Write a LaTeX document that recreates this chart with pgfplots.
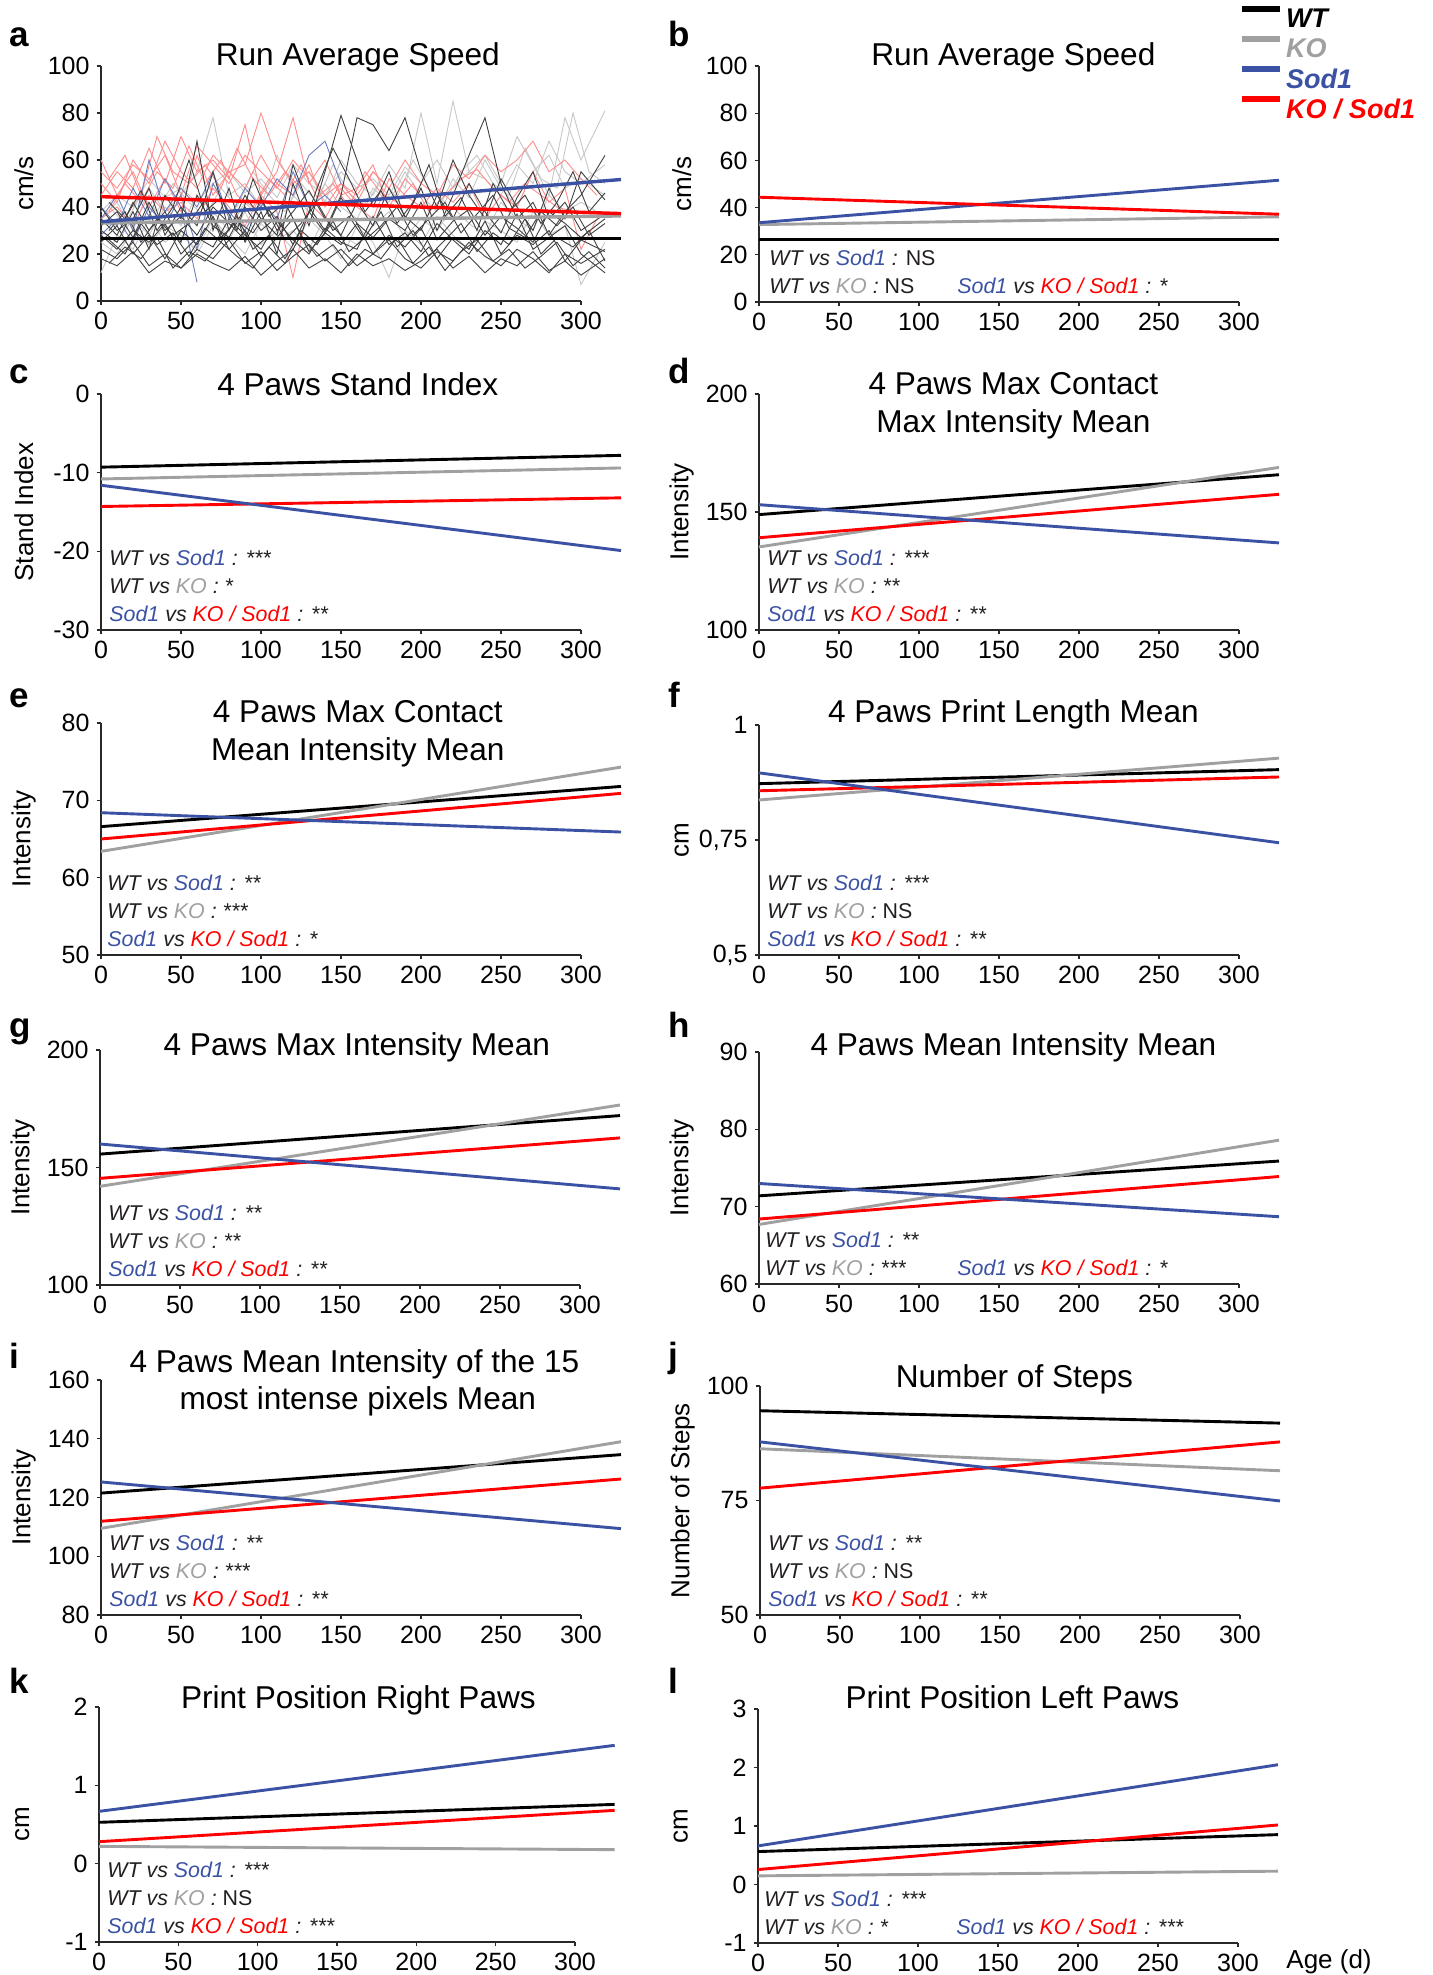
\documentclass[border=0pt]{standalone}
\usepackage{fontspec}
\setmainfont{Liberation Sans}
\usepackage{pgfplots}
\pgfplotsset{compat=1.18}

\definecolor{wt}{RGB}{0,0,0}
\definecolor{ko}{RGB}{160,160,160}
\definecolor{sod}{RGB}{59,82,164}
\definecolor{kosod}{RGB}{255,0,0}
\definecolor{axcol}{RGB}{40,40,40}
\definecolor{txt}{RGB}{35,31,32}

\newcommand\tickfont{\fontsize{12.5}{14}\selectfont}
\newcommand\titlefont{\fontsize{15.8}{18}\selectfont}
\newcommand\labfont{\fontsize{13}{15}\selectfont}
\newcommand\annfont{\fontsize{10.7}{12}\selectfont\itshape}

% significance lines
\newcommand\WTS[1]{WT vs \textcolor{sod}{Sod1} : #1}
\newcommand\WTK[1]{WT vs \textcolor{ko}{KO} : #1}
\newcommand\SKS[1]{\textcolor{sod}{Sod1} vs \textcolor{kosod}{KO / Sod1} : #1}
\newcommand\NS{{\upshape NS}}
\newcommand\annat[3]{\node[anchor=base west,inner sep=0pt,font=\annfont,text=txt] at ([xshift=#1,yshift=#2]axis description cs:0,0) {#3};}
\newcommand\ttl[3]{\node[anchor=base,inner sep=0pt,font=\titlefont] at ([yshift=#2]axis description cs:#1,1) {#3};}

\pgfplotsset{
  pan/.style={
    scale only axis, width=240pt,
    xmin=0, xmax=300, xtick={0,50,...,300},
    axis lines=left, axis line style={-, draw=axcol, line width=0.6pt},
    tick style={axcol, line width=0.6pt}, tick align=outside, major tick length=2.2pt,
    tick label style={font=\tickfont},
    /pgf/number format/assume math mode=true,
    every axis y label/.style={at={(axis description cs:-0.161,0.5)}, rotate=90, anchor=center, font=\labfont},
    clip=false, anchor=north west,
  },
  fit/.style={line width=1.45pt},
  thin/.style={line width=0.45pt},
}

\begin{document}
\begin{tikzpicture}
\useasboundingbox (0,0) rectangle (716pt,-987.5pt);

% ---------------- a
\begin{axis}[pan, at={(50.5pt,-33pt)}, height=117.5pt, ymin=0, ymax=100, ytick={0,20,...,100}, ylabel={cm/s}]
\addplot[thin, black!22] coordinates {(0,35)(10,42)(20,30)(30,48)(40,38)(50,45)(60,55)(70,78)(80,45)(90,50)(100,40)(110,62)(120,48)(130,55)(140,42)(150,60)(160,50)(170,45)(180,58)(190,48)(200,80)(210,50)(220,85)(230,55)(240,62)(250,50)(260,70)(270,58)(280,45)(290,78)(300,60)(315,81)};
\addplot[thin, black!22] coordinates {(0,30)(10,25)(20,35)(30,28)(40,40)(50,32)(60,45)(70,38)(80,30)(90,42)(100,35)(110,28)(120,45)(130,38)(140,50)(150,40)(160,35)(170,48)(180,42)(190,55)(200,45)(210,38)(220,52)(230,44)(240,60)(250,48)(260,40)(270,55)(280,62)(290,48)(300,52)(315,45)};
\addplot[thin, black!22] coordinates {(0,12)(10,28)(20,22)(30,35)(40,25)(50,30)(60,20)(70,32)(80,26)(90,38)(100,24)(110,30)(120,22)(130,35)(140,28)(150,18)(160,32)(170,25)(180,10)(190,30)(200,24)(210,36)(220,28)(230,22)(240,34)(250,30)(260,25)(270,38)(280,28)(290,32)(300,7)(315,25)};
\addplot[thin, black!22] coordinates {(0,38)(10,45)(20,40)(30,52)(40,44)(50,48)(60,42)(70,50)(80,55)(90,46)(100,52)(110,44)(120,58)(130,50)(140,45)(150,55)(160,48)(170,52)(180,45)(190,57)(200,50)(210,60)(220,48)(230,55)(240,52)(250,45)(260,58)(270,50)(280,68)(290,55)(300,50)(315,58)};
\addplot[thin, black!22] coordinates {(0,25)(10,20)(20,30)(30,24)(40,32)(50,28)(60,22)(70,35)(80,27)(90,20)(100,33)(110,26)(120,30)(130,22)(140,36)(150,28)(160,24)(170,32)(180,38)(190,27)(200,35)(210,30)(220,40)(230,33)(240,28)(250,42)(260,35)(270,30)(280,45)(290,38)(300,42)(315,36)};
\addplot[thin, black!22] coordinates {(5,40)(15,33)(25,45)(35,38)(45,50)(55,42)(65,36)(75,48)(85,40)(95,55)(105,45)(115,38)(125,50)(135,42)(145,58)(155,46)(165,40)(175,52)(185,44)(195,60)(205,48)(215,42)(225,55)(235,62)(245,50)(255,45)(265,65)(275,52)(285,48)(295,80)(305,55)(315,50)};
\addplot[thin, red!45] coordinates {(0,60)(10,45)(20,55)(30,40)(40,52)(50,38)(60,62)(70,45)(80,55)(90,48)(100,62)(110,50)(120,45)(130,58)(140,40)(150,50)(160,45)(170,55)(180,48)(190,60)(200,50)(210,45)(220,58)(230,52)(240,62)(250,55)(260,60)(270,68)(280,55)(290,60)(300,52)(310,45)};
\addplot[thin, red!45] coordinates {(0,45)(10,55)(20,48)(30,65)(40,50)(50,70)(60,55)(70,60)(80,52)(90,75)(100,45)(110,55)(120,78)(130,50)(140,60)(150,45)(160,48)(170,58)(180,40)(190,52)(200,45)};
\addplot[thin, red!45] coordinates {(0,50)(10,42)(20,60)(30,50)(40,68)(50,55)(60,48)(70,62)(80,55)(90,58)(100,80)(110,60)(120,50)(130,55)(140,45)(150,50)(160,42)(170,55)(180,48)};
\addplot[thin, red!45] coordinates {(0,35)(10,40)(20,32)(30,45)(40,38)(50,42)(60,35)(70,48)(80,40)(90,32)(100,45)(110,38)(120,10)(130,42)(140,35)(150,48)(160,40)(170,35)(180,52)(190,45)(200,40)(210,48)(220,42)(230,50)(240,35)(250,45)(260,40)(270,55)(280,42)(290,48)(300,22)(310,35)};
\addplot[thin, red!45] coordinates {(0,55)(10,48)(20,58)(30,52)(40,62)(50,45)(60,66)(70,58)(80,50)(90,62)(100,55)(110,48)(120,60)(130,52)};
\addplot[thin, red!45] coordinates {(5,52)(15,62)(25,45)(35,70)(45,55)(55,50)(65,58)(75,48)(85,65)(95,52)(105,45)(115,55)(125,48)};
\addplot[thin, red!45] coordinates {(5,38)(15,50)(25,42)(35,55)(45,48)(55,66)(65,50)(75,60)(85,45)(95,40)(105,52)(115,45)(125,58)(135,44)(145,50)(155,40)(165,55)(175,46)(185,42)(195,50)(205,38)(215,45)(225,52)(235,56)(245,48)(255,42)(265,50)(275,45)(285,40)(295,38)};
\addplot[thin, sod!75] coordinates {(0,35)(10,45)(20,30)(30,60)(40,38)(50,48)(60,40)(70,55)(80,35)(90,48)(100,40)(110,52)(120,45)(130,62)(140,68)(150,50)};
\addplot[thin, sod!75] coordinates {(0,28)(10,35)(20,25)(30,40)(40,32)(50,45)(60,22)(70,50)(80,38)(90,30)(100,42)(110,35)(120,55)(130,40)(140,45)(150,38)};
\addplot[thin, sod!75] coordinates {(0,40)(10,32)(20,48)(30,36)(40,52)(50,40)(60,8)};
\addplot[thin, black!75] coordinates {(0,22)(10,18)(20,25)(30,15)(40,20)(50,14)(60,22)(70,18)(80,26)(90,16)(100,21)(110,13)(120,19)(130,24)(140,17)(150,22)(160,15)(170,20)(180,26)(190,18)(200,14)(210,21)(220,17)(230,25)(240,19)(250,15)(260,22)(270,18)(280,12)(290,20)(300,16)(315,22)};
\addplot[thin, black!75] coordinates {(0,35)(10,28)(20,42)(30,30)(40,38)(50,25)(60,45)(70,32)(80,27)(90,40)(100,30)(110,36)(120,24)(130,38)(140,29)(150,44)(160,33)(170,27)(180,35)(190,30)(200,42)(210,26)(220,34)(230,39)(240,28)(250,36)(260,31)(270,25)(280,38)(290,33)(300,27)(315,35)};
\addplot[thin, black!75] coordinates {(0,30)(10,25)(20,38)(30,22)(40,45)(50,35)(60,68)(70,30)(80,48)(90,25)(100,38)(110,20)(120,50)(130,32)(140,55)(150,79)(160,60)(170,40)(180,55)(190,35)(200,48)(210,30)(220,45)(230,62)(240,78)(250,50)(260,35)(270,42)(280,28)(290,38)(300,45)(315,62)};
\addplot[thin, black!75] coordinates {(0,25)(10,32)(20,20)(30,28)(40,18)(50,30)(60,24)(70,36)(80,22)(90,30)(100,19)(110,27)(120,35)(130,21)(140,29)(150,24)(160,33)(170,20)(180,28)(190,23)(200,31)(210,18)(220,27)(230,22)(240,34)(250,20)(260,28)(270,24)(280,30)(290,17)(300,26)(315,21)};
\addplot[thin, black!75] coordinates {(0,40)(10,30)(20,35)(30,48)(40,28)(50,40)(60,32)(70,55)(80,30)(90,45)(100,35)(110,28)(120,58)(130,40)(140,30)(150,45)(160,78)(170,75)(180,64)(190,78)(200,55)(210,40)(220,60)(230,45)(240,35)(250,52)(260,40)(270,30)(280,48)(290,35)(300,55)(315,43)};
\addplot[thin, black!75] coordinates {(0,28)(10,22)(20,30)(30,25)(40,33)(50,20)(60,27)(70,23)(80,35)(90,28)(100,22)(110,34)(120,26)(130,20)(140,31)(150,25)(160,22)(170,36)(180,24)(190,29)(200,21)(210,33)(220,26)(230,20)(240,30)(250,24)(260,37)(270,22)(280,27)(290,32)(300,20)(315,12)};
\addplot[thin, black!75] coordinates {(0,32)(10,38)(20,27)(30,42)(40,30)(50,36)(60,28)(70,40)(80,33)(90,26)(100,44)(110,30)(120,38)(130,47)(140,35)(150,28)(160,42)(170,32)(180,48)(190,36)(200,30)(210,45)(220,35)(230,50)(240,38)(250,29)(260,44)(270,55)(280,35)(290,42)(300,30)(315,37)};
\addplot[thin, black!75] coordinates {(0,18)(10,15)(20,21)(30,12)(40,17)(50,14)(60,20)(70,16)(80,13)(90,19)(100,11)(110,17)(120,22)(130,14)(140,18)(150,12)(160,20)(170,15)(180,18)(190,13)(200,17)(210,22)(220,14)(230,19)(240,12)(250,18)(260,15)(270,21)(280,13)(290,17)(300,11)(315,18)};
\addplot[thin, black!75] coordinates {(5,26)(15,20)(25,33)(35,24)(45,29)(55,19)(65,31)(75,25)(85,36)(95,22)(105,28)(115,18)(125,30)(135,24)(145,34)(155,21)(165,27)(175,38)(185,23)(195,30)(205,19)(215,26)(225,33)(235,21)(245,29)(255,24)(265,35)(275,20)(285,27)(295,23)(305,30)(315,17)};
\addplot[thin, black!75] coordinates {(5,42)(15,35)(25,47)(35,30)(45,40)(55,60)(65,38)(75,44)(85,30)(95,52)(105,36)(115,42)(125,28)(135,48)(145,65)(155,52)(165,38)(175,47)(185,33)(195,42)(205,58)(215,36)(225,44)(235,30)(245,50)(255,38)(265,45)(275,33)(285,42)(295,55)(305,38)(315,46)};
\addplot[thin, black!75] coordinates {(5,16)(15,23)(25,18)(35,27)(45,14)(55,21)(65,17)(75,25)(85,19)(95,14)(105,23)(115,16)(125,28)(135,19)(145,24)(155,15)(165,22)(175,18)(185,27)(195,16)(205,23)(215,13)(225,21)(235,26)(245,17)(255,22)(265,14)(275,19)(285,25)(295,15)(305,21)(315,14)};
\addplot[thin, black!75] coordinates {(5,30)(15,38)(25,25)(35,35)(45,28)(55,33)(65,43)(75,27)(85,34)(95,29)(105,39)(115,26)(125,33)(135,42)(145,30)(155,36)(165,26)(175,32)(185,40)(195,28)(205,35)(215,42)(225,29)(235,37)(245,45)(255,31)(265,27)(275,38)(285,32)(295,40)(305,28)(315,33)};
\addplot[fit, wt, line width=1.7pt] coordinates {(0,26.7)(325,26.7)};
\addplot[fit, ko, line width=1.7pt] coordinates {(0,33.2)(325,36.2)};
\addplot[fit, sod, line width=1.7pt] coordinates {(0,33.7)(325,51.7)};
\addplot[fit, kosod, line width=1.7pt] coordinates {(0,44.4)(325,37.2)};
\ttl{0.535}{0.5pt}{Run Average Speed}
\end{axis}

% ---------------- b
\begin{axis}[pan, at={(379.5pt,-33pt)}, height=118pt, ymin=0, ymax=100, ytick={0,20,...,100}, ylabel={cm/s},
  legend style={draw=none, fill=none, at={(axis description cs:1.0,1.255)}, anchor=north west,
    inner sep=0pt, outer sep=0pt, row sep=4.2pt, font=\fontsize{13.5}{15}\selectfont\bfseries\itshape,
    nodes={inner sep=0pt, text height=9.6pt, text depth=0pt},
    /tikz/every odd column/.append style={column sep=1.5pt}},
  legend cell align=left,
  legend image code/.code={\draw[#1, line width=3pt] (0pt,4.6pt) -- (19pt,4.6pt);}]
\addplot[fit, wt] coordinates {(0,26.6)(325,26.6)};
\addlegendentry{WT}
\addplot[fit, ko] coordinates {(0,32.8)(325,36.1)};
\addlegendentry{\textcolor{ko}{KO}}
\addplot[fit, sod] coordinates {(0,33.6)(325,51.6)};
\addlegendentry{\textcolor{sod}{Sod1}}
\addplot[fit, kosod] coordinates {(0,44.4)(325,37.2)};
\addlegendentry{\textcolor{kosod}{KO / Sod1}}
\ttl{0.53}{0.5pt}{Run Average Speed}
\annat{5pt}{18.5pt}{\WTS{\NS}}
\annat{5pt}{4.5pt}{\WTK{\NS}}
\annat{99pt}{4.5pt}{\SKS{*}}
\end{axis}

% ---------------- c
\begin{axis}[pan, at={(50.5pt,-197pt)}, height=118pt, ymin=-30, ymax=0, ytick={-30,-20,-10,0}, ylabel={Stand Index}]
\addplot[fit, wt] coordinates {(0,-9.3)(325,-7.8)};
\addplot[fit, ko] coordinates {(0,-10.8)(325,-9.4)};
\addplot[fit, kosod] coordinates {(0,-14.3)(325,-13.2)};
\addplot[fit, sod] coordinates {(0,-11.6)(325,-19.9)};
\ttl{0.535}{-0.5pt}{4 Paws Stand Index}
\annat{4pt}{32.5pt}{\WTS{***}}
\annat{4pt}{18.5pt}{\WTK{*}}
\annat{4pt}{4.5pt}{\SKS{**}}
\end{axis}

% ---------------- d
\begin{axis}[pan, at={(379.5pt,-197pt)}, height=118pt, ymin=100, ymax=200, ytick={100,150,200}, ylabel={Intensity}]
\addplot[fit, wt] coordinates {(0,148.9)(325,165.8)};
\addplot[fit, ko] coordinates {(0,135.2)(325,168.9)};
\addplot[fit, kosod] coordinates {(0,139.1)(325,157.5)};
\addplot[fit, sod] coordinates {(0,153.1)(325,136.9)};
\ttl{0.53}{0pt}{4 Paws Max Contact}
\ttl{0.53}{-19pt}{Max Intensity Mean}
\annat{4pt}{32.5pt}{\WTS{***}}
\annat{4pt}{18.5pt}{\WTK{**}}
\annat{4pt}{4.5pt}{\SKS{**}}
\end{axis}

% ---------------- e
\begin{axis}[pan, at={(50.5pt,-361.5pt)}, height=116pt, ymin=50, ymax=80, ytick={50,60,70,80}, ylabel={Intensity}]
\addplot[fit, wt] coordinates {(0,66.6)(325,71.8)};
\addplot[fit, ko] coordinates {(0,63.4)(325,74.3)};
\addplot[fit, kosod] coordinates {(0,65.0)(325,70.9)};
\addplot[fit, sod] coordinates {(0,68.4)(325,65.9)};
\ttl{0.535}{0.5pt}{4 Paws Max Contact}
\ttl{0.535}{-18.5pt}{Mean Intensity Mean}
\annat{3pt}{32.5pt}{\WTS{**}}
\annat{3pt}{18.5pt}{\WTK{***}}
\annat{3pt}{4.5pt}{\SKS{*}}
\end{axis}

% ---------------- f
\begin{axis}[pan, at={(379.5pt,-362.5pt)}, height=115pt, ymin=0.5, ymax=1, ytick={0.5,0.75,1}, yticklabels={{0,5},{0,75},{1}}, ylabel={cm}]
\addplot[fit, wt] coordinates {(0,0.8725)(325,0.903)};
\addplot[fit, ko] coordinates {(0,0.837)(325,0.928)};
\addplot[fit, kosod] coordinates {(0,0.857)(325,0.887)};
\addplot[fit, sod] coordinates {(0,0.896)(325,0.744)};
\ttl{0.53}{1.5pt}{4 Paws Print Length Mean}
\annat{4pt}{32.5pt}{\WTS{***}}
\annat{4pt}{18.5pt}{\WTK{\NS}}
\annat{4pt}{4.5pt}{\SKS{**}}
\end{axis}

% ---------------- g
\begin{axis}[pan, at={(50pt,-525pt)}, height=117.5pt, ymin=100, ymax=200, ytick={100,150,200}, ylabel={Intensity}]
\addplot[fit, wt] coordinates {(0,155.7)(325,172.1)};
\addplot[fit, ko] coordinates {(0,142.0)(325,176.6)};
\addplot[fit, kosod] coordinates {(0,145.4)(325,162.6)};
\addplot[fit, sod] coordinates {(0,160.0)(325,140.9)};
\ttl{0.535}{-2.5pt}{4 Paws Max Intensity Mean}
\annat{4pt}{32.5pt}{\WTS{**}}
\annat{4pt}{18.5pt}{\WTK{**}}
\annat{4pt}{4.5pt}{\SKS{**}}
\end{axis}

% ---------------- h
\begin{axis}[pan, at={(379.5pt,-526pt)}, height=116pt, ymin=60, ymax=90, ytick={60,70,80,90}, ylabel={Intensity}]
\addplot[fit, wt] coordinates {(0,71.4)(325,75.9)};
\addplot[fit, ko] coordinates {(0,67.7)(325,78.6)};
\addplot[fit, kosod] coordinates {(0,68.4)(325,73.9)};
\addplot[fit, sod] coordinates {(0,73.0)(325,68.7)};
\ttl{0.53}{-1.5pt}{4 Paws Mean Intensity Mean}
\annat{3pt}{18.5pt}{\WTS{**}}
\annat{3pt}{4.5pt}{\WTK{***}}
\annat{99pt}{4.5pt}{\SKS{*}}
\end{axis}

% ---------------- i
\begin{axis}[pan, at={(50.5pt,-690pt)}, height=117.5pt, ymin=80, ymax=160, ytick={80,100,...,160}, ylabel={Intensity}]
\addplot[fit, wt] coordinates {(0,121.5)(325,134.6)};
\addplot[fit, ko] coordinates {(0,109.5)(325,139.0)};
\addplot[fit, kosod] coordinates {(0,111.9)(325,126.3)};
\addplot[fit, sod] coordinates {(0,125.3)(325,109.4)};
\ttl{0.528}{4pt}{4 Paws Mean Intensity of the 15}
\ttl{0.535}{-14.5pt}{most intense pixels Mean}
\annat{4pt}{32.5pt}{\WTS{**}}
\annat{4pt}{18.5pt}{\WTK{***}}
\annat{4pt}{4.5pt}{\SKS{**}}
\end{axis}

% ---------------- j
\begin{axis}[pan, at={(380pt,-693pt)}, height=114.5pt, ymin=50, ymax=100, ytick={50,75,100}, ylabel={Number of Steps}]
\addplot[fit, wt] coordinates {(0,94.6)(325,91.9)};
\addplot[fit, ko] coordinates {(0,86.3)(325,81.5)};
\addplot[fit, kosod] coordinates {(0,77.7)(325,87.8)};
\addplot[fit, sod] coordinates {(0,87.8)(325,74.9)};
\ttl{0.53}{-0.5pt}{Number of Steps}
\annat{4pt}{32.5pt}{\WTS{**}}
\annat{4pt}{18.5pt}{\WTK{\NS}}
\annat{4pt}{4.5pt}{\SKS{**}}
\end{axis}

% ---------------- k
\begin{axis}[pan, at={(49.5pt,-853.5pt)}, width=238pt, height=117.5pt, ymin=-1, ymax=2, ytick={-1,0,1,2}, ylabel={cm}]
\addplot[fit, wt] coordinates {(0,0.528)(325,0.757)};
\addplot[fit, ko] coordinates {(0,0.221)(325,0.179)};
\addplot[fit, kosod] coordinates {(0,0.281)(325,0.681)};
\addplot[fit, sod] coordinates {(0,0.668)(325,1.511)};
\ttl{0.545}{-0.5pt}{Print Position Right Paws}
\annat{4pt}{32.5pt}{\WTS{***}}
\annat{4pt}{18.5pt}{\WTK{\NS}}
\annat{4pt}{4.5pt}{\SKS{***}}
\end{axis}

% ---------------- l
\begin{axis}[pan, at={(379pt,-854.5pt)}, height=117pt, ymin=-1, ymax=3, ytick={-1,0,1,2,3}, ylabel={cm}]
\addplot[fit, wt] coordinates {(0,0.563)(325,0.853)};
\addplot[fit, ko] coordinates {(0,0.148)(325,0.228)};
\addplot[fit, kosod] coordinates {(0,0.256)(325,1.018)};
\addplot[fit, sod] coordinates {(0,0.660)(325,2.048)};
\ttl{0.53}{0.5pt}{Print Position Left Paws}
\annat{3pt}{18.5pt}{\WTS{***}}
\annat{3pt}{4.5pt}{\WTK{*}}
\annat{99pt}{4.5pt}{\SKS{***}}
\end{axis}

% panel letters and x title
\begin{scope}[every node/.style={anchor=base west, inner sep=0pt, font=\fontsize{17.5}{20}\selectfont\bfseries}]
\node at (4.5pt,-23.5pt) {a};
\node at (334pt,-23.5pt) {b};
\node at (4.5pt,-191.5pt) {c};
\node at (334pt,-191.5pt) {d};
\node at (4.5pt,-353.5pt) {e};
\node at (334pt,-353.5pt) {f};
\node at (4.5pt,-518.5pt) {g};
\node at (334pt,-518.5pt) {h};
\node at (4.5pt,-684pt) {i};
\node at (334pt,-683.5pt) {j};
\node at (4.5pt,-846.5pt) {k};
\node at (334pt,-846.5pt) {l};
\end{scope}
\node[anchor=base west, inner sep=0pt, font=\labfont] at (643pt,-984pt) {Age (d)};
\end{tikzpicture}
\end{document}
